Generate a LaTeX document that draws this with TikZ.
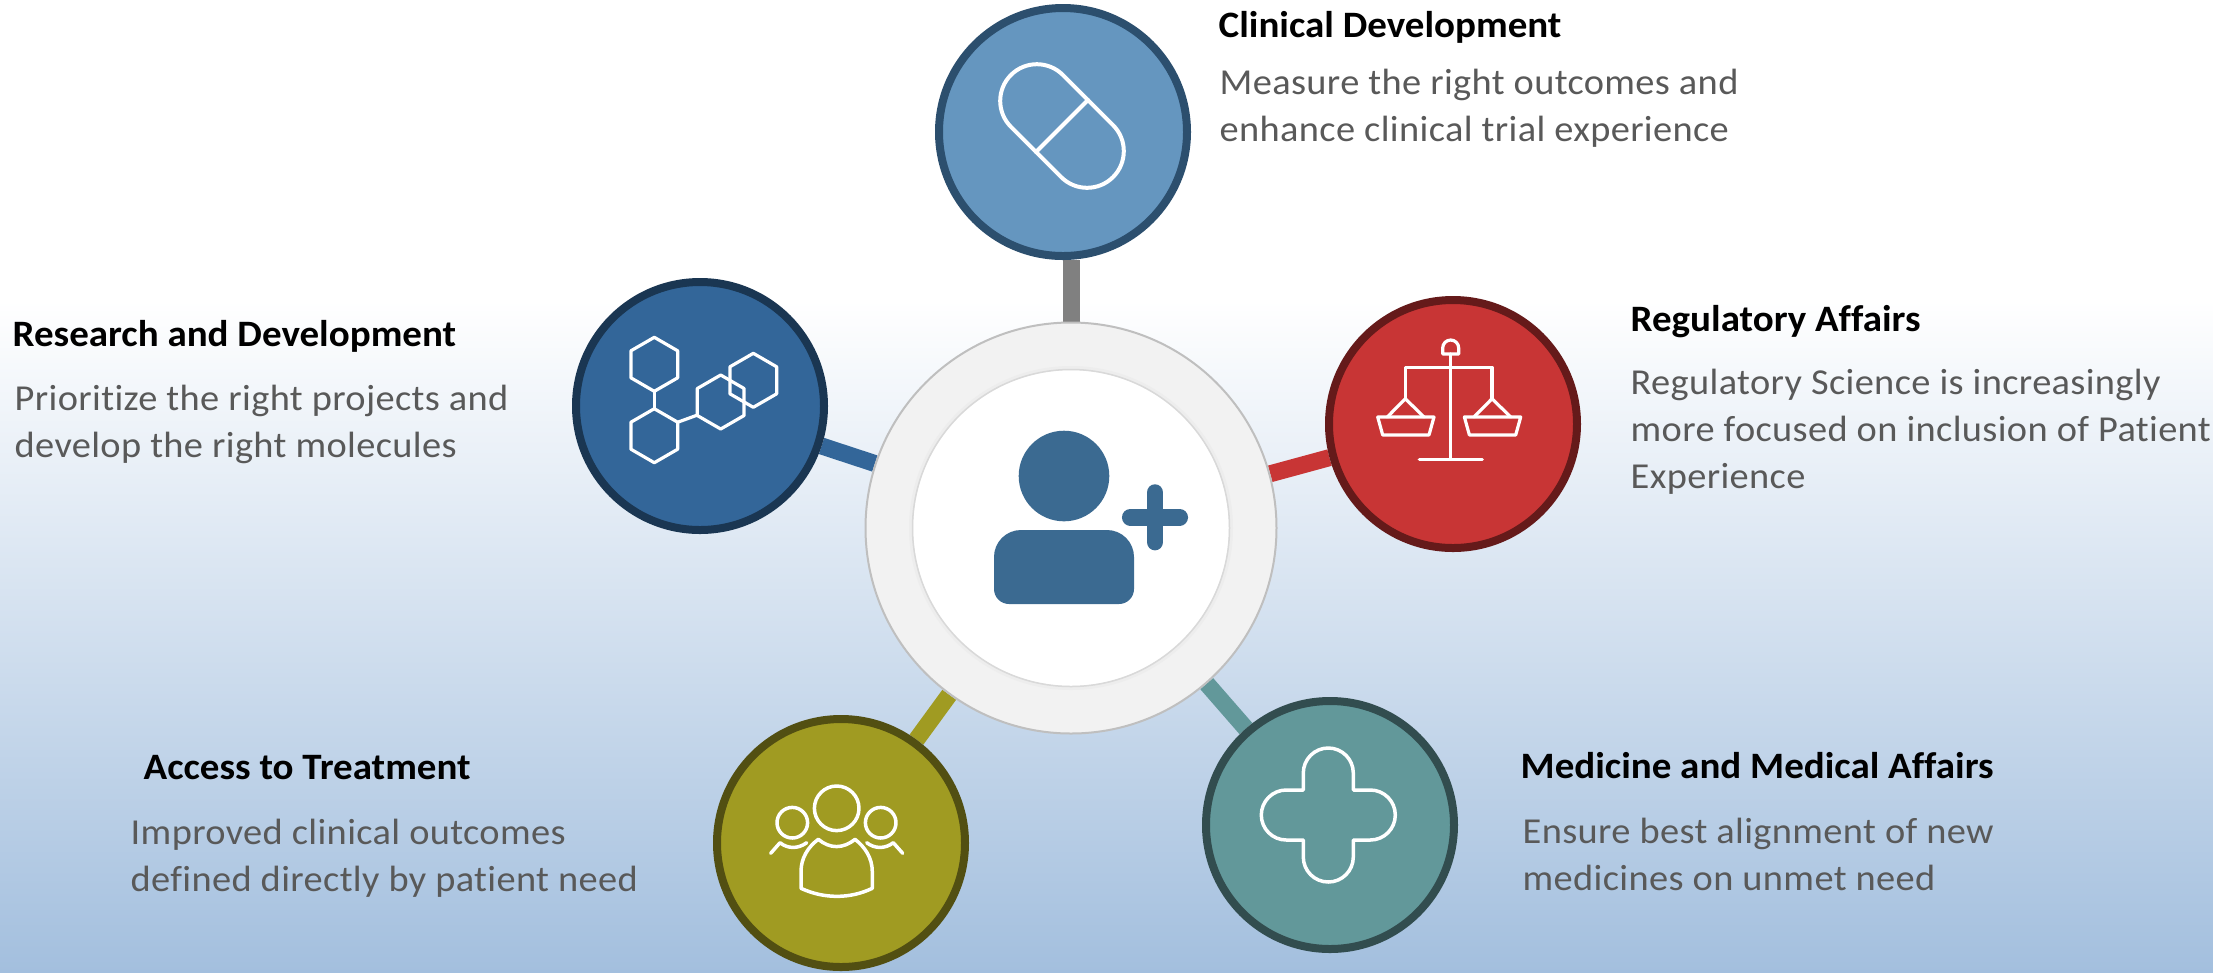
\documentclass[tikz,border=0pt]{standalone}
\usepackage{fontspec}
\setmainfont{Carlito}
\newfontfamily\titlefont[FakeStretch=1.047, Ligatures=NoCommon]{Carlito}
\newfontfamily\descfont[FakeStretch=1.05, LetterSpace=1.0, Ligatures=NoCommon]{Carlito}
\usepackage{tikz}
\usetikzlibrary{backgrounds}
\usetikzlibrary{calc}
\definecolor{bg_blue}{HTML}{A3BFDE}
\definecolor{bg_mid}{HTML}{CADBEE}
\definecolor{clin_fill}{HTML}{6596BF}
\definecolor{clin_edge}{HTML}{2C4F6E}
\definecolor{rd_fill}{HTML}{336699}
\definecolor{rd_edge}{HTML}{1A3652}
\definecolor{reg_fill}{HTML}{C83535}
\definecolor{reg_edge}{HTML}{651A1A}
\definecolor{acc_fill}{HTML}{A09B22}
\definecolor{acc_edge}{HTML}{524F12}
\definecolor{med_fill}{HTML}{62989A}
\definecolor{med_edge}{HTML}{324D4F}
\definecolor{person_blue}{HTML}{3B6A91}
\definecolor{desc_gray}{HTML}{595959}

\begin{document}
\begin{tikzpicture}[
    topic_node/.style={circle, draw, line width=0.8mm, minimum size=24.8mm, inner sep=0pt},
    title_text/.style={anchor=base west, inner sep=0pt, font=\fontsize{10.6pt}{12pt}\selectfont\titlefont\bfseries, text=black},
    desc_text/.style={anchor=base west, inner sep=0pt, align=left, text=desc_gray, font=\fontsize{10.4pt}{13.37pt}\selectfont\descfont},
    icon_line/.style={draw=white, line width=0.32mm, line join=round, line cap=round},
    link_line/.style={line width=1.7mm}
]
\useasboundingbox (0, 0) rectangle (22.13, -9.72);

% 主題圓與中心圓 (Topic circles and the hub)
\node[circle, draw=black!25, fill=black!5, line width=0.2mm, minimum size=41.1mm, inner sep=0pt] (hub_outer) at (10.71, -5.28) {};
\node[circle, fill=white, minimum size=31.6mm, inner sep=0pt] (hub_inner) at (10.71, -5.28) {};
\draw[black!7, line width=0.4mm] (hub_inner) circle (1.6);
\draw[black!15, line width=0.15mm] (hub_inner) circle (1.585);
\node[topic_node, draw=clin_edge, fill=clin_fill] (clin) at (10.63, -1.32) {};
\node[topic_node, draw=rd_edge, fill=rd_fill] (rd) at (7.00, -4.06) {};
\node[topic_node, draw=reg_edge, fill=reg_fill] (reg) at (14.53, -4.24) {};
\node[topic_node, draw=acc_edge, fill=acc_fill] (acc) at (8.41, -8.43) {};
\node[topic_node, draw=med_edge, fill=med_fill] (med) at (13.30, -8.25) {};

% 背景與連線 (Background and links)
\begin{scope}[on background layer]
\fill[top color=white, middle color=bg_mid, bottom color=bg_blue] (0, -3) rectangle (22.13, -9.72);
\path[draw, link_line]
    (hub_outer) edge[rd_fill] (rd)
    (hub_outer) edge[reg_fill] (reg)
    (hub_outer) edge[acc_fill] (acc)
    (hub_outer) edge[med_fill] (med)
    (hub_outer.north) edge[black!50] (hub_outer.north |- clin.south);
\end{scope}

% 中心人像 (Person in the hub)
\fill[person_blue] (10.64, -4.76) circle (0.453);
\fill[person_blue] (9.94, -5.89) arc[start angle=180, end angle=270, radius=0.15]
    -- (11.19, -6.04) arc[start angle=270, end angle=360, radius=0.15]
    -- (11.34, -5.57) arc[start angle=0, end angle=90, radius=0.27]
    -- (10.21, -5.30) arc[start angle=90, end angle=180, radius=0.27] -- cycle;
\draw[person_blue, line width=1.67mm, line cap=round]
    (11.55, -4.926) -- (11.55, -5.42)
    (11.303, -5.173) -- (11.797, -5.173);

% 膠囊 (Capsule)
\begin{scope}[shift={(10.62, -1.26)}, rotate=-45]
\draw[icon_line, line width=0.4mm] (-0.355, 0.367) -- (0.355, 0.367)
    arc[start angle=90, end angle=-90, radius=0.367]
    -- (-0.355, -0.367) arc[start angle=270, end angle=90, radius=0.367] -- cycle;
\draw[icon_line, line width=0.4mm] (0, 0.367) -- (0, -0.367);
\end{scope}

% 分子 (Molecule)
\foreach \hx/\hy in {6.543/-3.643, 6.543/-4.357, 7.207/-4.02, 7.533/-3.803} {
    \draw[icon_line] (\hx, \hy) +(30:0.27) -- +(90:0.27) -- +(150:0.27) -- +(210:0.27) -- +(270:0.27) -- +(330:0.27) -- cycle;
}
\draw[icon_line] (6.543, -3.91) -- (6.543, -4.09);
\draw[icon_line] (6.783, -4.22) -- (6.967, -4.153);

% 天平 (Scales)
\draw[icon_line] (14.507, -3.54) -- (14.507, -4.593);
\draw[icon_line] (14.193, -4.593) -- (14.823, -4.593);
\draw[icon_line] (14.427, -3.54) -- (14.427, -3.48) arc[start angle=180, end angle=0, radius=0.08] -- (14.587, -3.54) -- cycle;
\foreach \dx in {0, 0.867} {
    \draw[icon_line] (14.053 + \dx, -3.987) -- (14.053 + \dx, -3.673) -- (14.507, -3.673);
    \draw[icon_line] (13.873 + \dx, -4.17) -- (14.053 + \dx, -3.987) -- (14.24 + \dx, -4.17);
    \draw[icon_line] (13.777 + \dx, -4.17) -- (14.34 + \dx, -4.17) -- (14.29 + \dx, -4.35) -- (13.827 + \dx, -4.35) -- cycle;
}

% 人群 (People)
\draw[icon_line, line width=0.35mm] (8.367, -8.083) circle (0.223);
\draw[icon_line, line width=0.35mm] (7.923, -8.227) circle (0.153);
\draw[icon_line, line width=0.35mm] (8.807, -8.227) circle (0.153);
\draw[icon_line, line width=0.35mm] (8.01, -8.883) -- (8.01, -8.717)
    .. controls (8.01, -8.58) and (8.08, -8.47) .. (8.183, -8.393)
    .. controls (8.3, -8.49) and (8.43, -8.49) .. (8.55, -8.393)
    .. controls (8.65, -8.47) and (8.723, -8.58) .. (8.723, -8.717)
    -- (8.723, -8.883)
    .. controls (8.5, -8.99) and (8.24, -8.99) .. (8.01, -8.883) -- cycle;
\draw[icon_line, line width=0.35mm] (7.707, -8.533) -- (7.80, -8.427)
    .. controls (7.88, -8.49) and (7.98, -8.49) .. (8.067, -8.427);
\draw[icon_line, line width=0.35mm] (9.027, -8.533) -- (8.933, -8.427)
    .. controls (8.85, -8.49) and (8.75, -8.49) .. (8.667, -8.427);

% 十字 (Cross)
\begin{scope}[shift={(13.283, -8.15)}]
\draw[icon_line, line width=0.35mm] (0.25, 0.25) -- (0.25, 0.42)
    arc[start angle=0, end angle=180, radius=0.25] -- (-0.25, 0.25) -- (-0.42, 0.25)
    arc[start angle=90, end angle=270, radius=0.25] -- (-0.25, -0.25) -- (-0.25, -0.42)
    arc[start angle=180, end angle=360, radius=0.25] -- (0.25, -0.25) -- (0.42, -0.25)
    arc[start angle=270, end angle=450, radius=0.25] -- cycle;
\end{scope}

% 文字 (Texts)
\node[title_text] (clin_title) at (12.18, -0.37) {Clinical Development};
\node[desc_text] (clin_desc) at (12.19, -1.415) {Measure the right outcomes and\\enhance clinical trial experience};
\node[title_text] (rd_title) at (0.12, -3.46) {Research and Development};
\node[desc_text] (rd_desc) at (0.14, -4.575) {Prioritize the right projects and\\develop the right molecules};
\node[title_text] (reg_title) at (16.30, -3.31) {Regulatory Affairs};
\node[desc_text] (reg_desc) at (16.30, -4.885) {Regulatory Science is increasingly\\more focused on inclusion of Patient\\Experience};
\node[title_text] (acc_title) at (1.43, -7.79) {Access to Treatment};
\node[desc_text] (acc_desc) at (1.30, -8.915) {Improved clinical outcomes\\defined directly by patient need};
\node[title_text] (med_title) at (15.20, -7.78) {Medicine and Medical Affairs};
\node[desc_text] (med_desc) at (15.22, -8.905) {Ensure best alignment of new\\medicines on unmet need};

\end{tikzpicture}
\end{document}
